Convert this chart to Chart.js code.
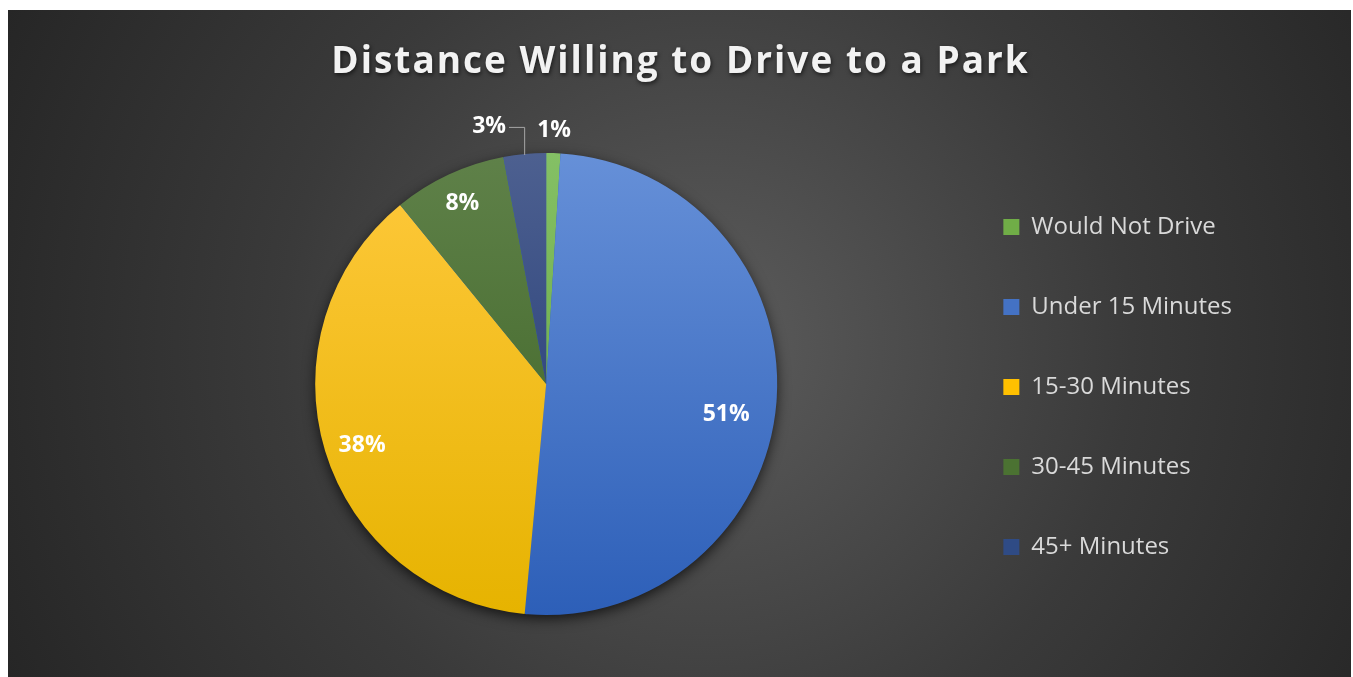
<!DOCTYPE html>
<html>
<head>
<meta charset="utf-8">
<title>Distance Willing to Drive to a Park</title>
<script src="https://cdn.jsdelivr.net/npm/chart.js@4.4.1/dist/chart.umd.min.js"></script>
<style>
  html, body { margin: 0; padding: 0; background: #ffffff; }
  #wrap {
    position: absolute;
    left: 8px; top: 10px;
    width: 1343px; height: 667px;
    background: radial-gradient(circle at 52% 50%, #5c5c5c 0%, #3a3a3a 55%, #262626 100%);
  }
  #wrap canvas { display: block; }
</style>
</head>
<body>
<div id="wrap"><canvas id="parkChart" width="1343" height="667"></canvas></div>
<script>
// Survey answers, in percent
const CHART_TITLE = 'Distance Willing to Drive to a Park';
const categories = ['Would Not Drive', 'Under 15 Minutes', '15-30 Minutes', '30-45 Minutes', '45+ Minutes'];
const shares = [1, 51, 38, 8, 3];

// Slice colours: lighter at the top of the pie, darker at the bottom
const topColors = ['#84c065', '#6690d8', '#ffc93d', '#5f8149', '#4d6090'];
const bottomColors = ['#62a03a', '#2d5fb8', '#e6b300', '#3a6121', '#1a3370'];
const legendColors = ['#70ad47', '#4472c4', '#ffc000', '#4b7232', '#2f4b85'];

// Label placement per slice: radius factor, angle nudge (deg)
const labelRadius = [1.1, 0.79, 0.84, 0.86, 1.12];
const labelTurn = [0, 5, -1.5, 0, 0];

function sliceFill(ctx) {
  const chart = ctx.chart;
  const area = chart.chartArea;
  const i = ctx.dataIndex;
  if (!area) return legendColors[i];
  // the pie fills the full height of the chart area
  const g = chart.ctx.createLinearGradient(0, area.top, 0, area.bottom);
  g.addColorStop(0, topColors[i]);
  g.addColorStop(1, bottomColors[i]);
  return g;
}

// Drop shadow under the whole pie
const pieShadow = {
  id: 'pieShadow',
  beforeDatasetsDraw(chart) {
    const arc = chart.getDatasetMeta(0).data[0];
    if (!arc) return;
    const ctx = chart.ctx;
    ctx.save();
    ctx.shadowColor = 'rgba(0,0,0,0.75)';
    ctx.shadowBlur = 14;
    ctx.shadowOffsetY = 4;
    ctx.fillStyle = '#2d5fb8';
    ctx.beginPath();
    ctx.arc(arc.x, arc.y, arc.outerRadius - 1, 0, Math.PI * 2);
    ctx.fill();
    ctx.restore();
  }
};

// Spaced title with a soft shadow
const spacedTitle = {
  id: 'spacedTitle',
  afterDraw(chart) {
    const ctx = chart.ctx;
    ctx.save();
    ctx.font = 'bold 37px "Open Sans"';
    ctx.letterSpacing = '2px';
    ctx.textAlign = 'center';
    ctx.textBaseline = 'alphabetic';
    ctx.shadowColor = 'rgba(0,0,0,0.6)';
    ctx.shadowBlur = 4;
    ctx.shadowOffsetX = 1;
    ctx.shadowOffsetY = 2;
    ctx.fillStyle = '#f2f2f2';
    ctx.fillText(CHART_TITLE, chart.width / 2 + 1, 63);
    ctx.restore();
  }
};

// Percentage labels, with an elbow leader for the small outside slice
const sliceLabels = {
  id: 'sliceLabels',
  afterDatasetsDraw(chart) {
    const ctx = chart.ctx;
    const meta = chart.getDatasetMeta(0);
    ctx.save();
    ctx.font = 'bold 23px "Open Sans"';
    ctx.fillStyle = '#ffffff';
    ctx.textAlign = 'center';
    ctx.textBaseline = 'middle';
    meta.data.forEach((arc, i) => {
      const { x, y, startAngle, endAngle, outerRadius } = arc.getProps(['x', 'y', 'startAngle', 'endAngle', 'outerRadius'], true);
      const mid = (startAngle + endAngle) / 2 + labelTurn[i] * Math.PI / 180;
      const r = outerRadius * labelRadius[i];
      let lx = x + Math.cos(mid) * r;
      const ly = y + Math.sin(mid) * r;
      const text = shares[i] + '%';
      if (i === 4) {
        // pushed left to clear the 1% label, joined back by a leader
        const edgeX = x + Math.cos(mid) * outerRadius;
        const edgeY = y + Math.sin(mid) * outerRadius;
        lx -= 33;
        const w = ctx.measureText(text).width;
        ctx.save();
        ctx.strokeStyle = '#a6a6a6';
        ctx.lineWidth = 1;
        ctx.beginPath();
        ctx.moveTo(lx + w / 2 + 3, ly + 1);
        ctx.lineTo(edgeX, ly + 1);
        ctx.lineTo(edgeX, edgeY + 1);
        ctx.stroke();
        ctx.restore();
      }
      ctx.fillText(text, lx, ly);
    });
    ctx.restore();
  }
};

const chart = new Chart(document.getElementById('parkChart'), {
  type: 'pie',
  data: {
    labels: categories,
    datasets: [{
      data: shares,
      backgroundColor: sliceFill,
      borderWidth: 0
    }]
  },
  options: {
    responsive: false,
    animation: false,
    layout: { padding: { left: 137, top: 143, bottom: 62, right: 109 } },
    plugins: {
      title: { display: false },
      tooltip: { enabled: false },
      legend: {
        position: 'right',
        align: 'center',
        // blank title only nudges the item column down a little
        title: { display: true, text: ' ', font: { size: 5 }, padding: 0 },
        labels: {
          color: '#d9d9d9',
          font: { family: '"Open Sans"', size: 24 },
          boxWidth: 16,
          boxHeight: 16,
          padding: 56,
          generateLabels() {
            return categories.map((name, i) => ({
              text: name,
              fillStyle: legendColors[i],
              strokeStyle: legendColors[i],
              lineWidth: 0,
              fontColor: '#d9d9d9',
              hidden: false,
              index: i
            }));
          }
        }
      }
    }
  },
  plugins: [pieShadow, sliceLabels, spacedTitle]
});
</script>
</body>
</html>
